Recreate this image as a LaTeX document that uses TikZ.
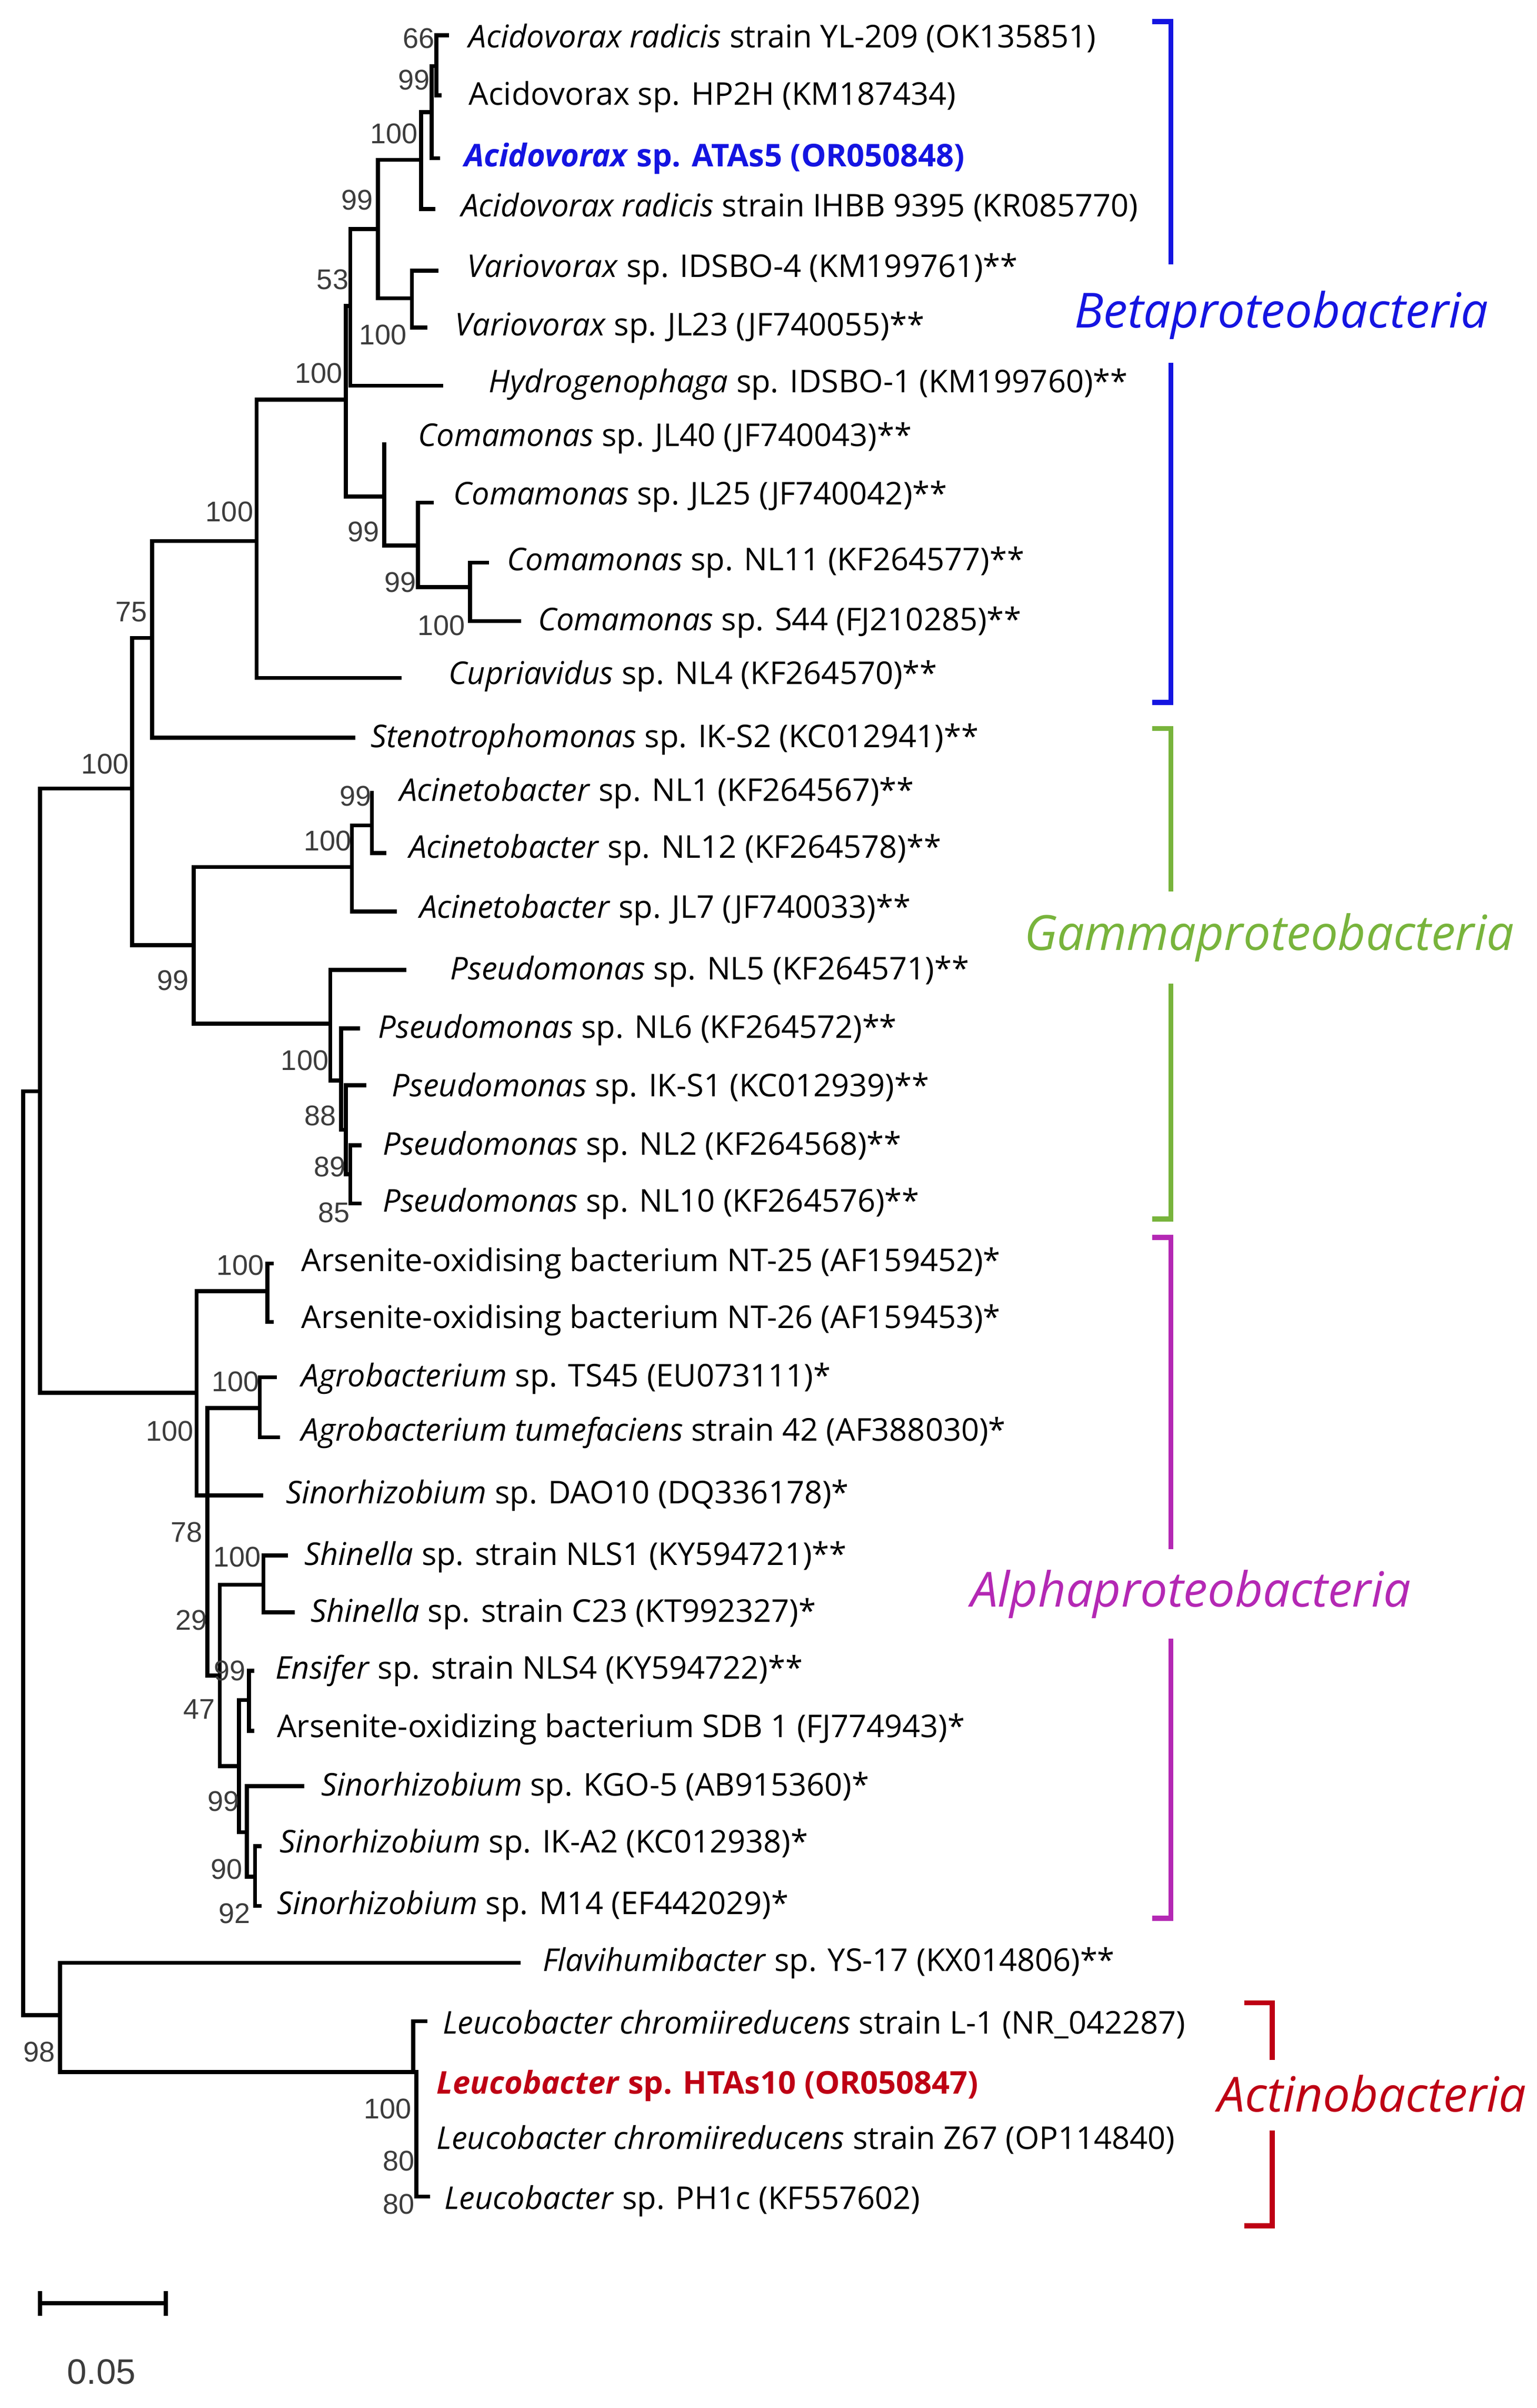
\documentclass[tikz,border=0pt]{standalone}
\usepackage{fontspec}
\setmainfont{Open Sans}
\newfontfamily\bsfont{Liberation Sans}
\definecolor{bsgray}{RGB}{60,60,60}
\definecolor{cblue}{RGB}{20,20,225}
\definecolor{cgreen}{RGB}{120,180,60}
\definecolor{cmag}{RGB}{180,40,180}
\definecolor{cred}{RGB}{190,0,20}
\newcommand\leafnode[4]{\node[leaf] (#1) at (#2,#3) {#4};}
\newcommand\bsnode[4]{\node[bs] (#1) at (#2,#3) {#4};}
\begin{document}
\begin{tikzpicture}[x=1pt,y=-1pt,
  br/.style={line width=2.6pt,line cap=rect},
  leaf/.style={anchor=west,inner sep=0pt,font=\fontsize{20.4}{22}\selectfont},
  bs/.style={anchor=east,inner sep=0pt,font=\bsfont\fontsize{18.5}{19}\selectfont,text=bsgray},
  clade/.style={inner sep=0pt,font=\itshape\fontsize{31.5}{34}\selectfont},
  brk/.style={line width=3.2pt}]
\useasboundingbox (0,0) rectangle (1000,1566.6);
% ---- Beta
\draw[br] (284,23)--(291,23) (284,23)--(284,62)--(286,62);
\draw[br] (281,43)--(284,43) (281,43)--(281,103)--(285,103);
\draw[br] (274,73)--(281,73) (274,73)--(274,136)--(282,136);
\draw[br] (246,104)--(274,104) (246,104)--(246,194)--(268,194);
\draw[br] (268,176)--(284,176) (268,176)--(268,213)--(277,213);
\draw[br] (228,149)--(246,149) (228,149)--(228,251)--(287,251);
\draw[br] (225,199)--(228,199) (225,199)--(225,323)--(250,323);
\draw[br] (250,289)--(250,355)--(272,355);
\draw[br] (272,327)--(281,327) (272,327)--(272,382)--(306,382);
\draw[br] (306,366)--(317,366) (306,366)--(306,404)--(338,404);
\draw[br] (167,260)--(225,260) (167,260)--(167,441)--(260,441);
\draw[br] (99,352)--(167,352) (99,352)--(99,480)--(230,480);
\draw[br] (86,415)--(99,415) (86,415)--(86,615)--(126,615);
% ---- Gamma
\draw[br] (126,564)--(229,564) (126,564)--(126,666)--(215,666);
\draw[br] (229,537)--(242,537) (229,537)--(229,593)--(257,593);
\draw[br] (242,516)--(242,555)--(250,555);
\draw[br] (215,631)--(263,631) (215,631)--(215,703)--(222,703);
\draw[br] (222,669)--(233,669) (222,669)--(222,735)--(225,735);
\draw[br] (225,706)--(237,706) (225,706)--(225,764)--(228,764);
\draw[br] (228,745)--(234,745) (228,745)--(228,783)--(234,783);
% ---- Alpha
\draw[br] (26,906)--(128,906) (128,840)--(128,973)--(170,973);
\draw[br] (128,840)--(174,840) (174,822)--(177,822) (174,822)--(174,860)--(177,860);
\draw[br] (128,973)--(135,973) (135,916)--(135,1090)--(143,1090);
\draw[br] (135,916)--(169,916) (169,896)--(179,896) (169,896)--(169,935)--(181,935);
\draw[br] (143,1031)--(171.5,1031) (143,1031)--(143,1149)--(155.6,1149);
\draw[br] (171.5,1012)--(186,1012) (171.5,1012)--(171.5,1049)--(190.5,1049);
\draw[br] (155.6,1106)--(162,1106) (155.6,1106)--(155.6,1192)--(160.6,1192);
\draw[br] (162,1087)--(164,1087) (162,1087)--(162,1126)--(164,1126);
\draw[br] (160.6,1162)--(196.7,1162) (160.6,1162)--(160.6,1221)--(166,1221);
\draw[br] (166,1201)--(169,1201) (166,1201)--(166,1240)--(169,1240);
% ---- Root & Actino
\draw[br] (26,513)--(86,513) (26,513)--(26,906);
\draw[br] (15,710)--(26,710) (15,710)--(15,1311)--(39,1311);
\draw[br] (39,1277)--(337.6,1277) (39,1277)--(39,1348)--(269,1348);
\draw[br] (269,1315)--(277,1315) (269,1315)--(269,1348);
\draw[br] (271,1348)--(271,1429)--(278.6,1429);
% ---- leaves
\leafnode{l1}{305}{25}{\textit{Acidovorax radicis} strain YL-209 (OK135851)}
\leafnode{l2}{305}{63}{Acidovorax sp. HP2H (KM187434)}
\leafnode{l3}{302}{103}{\bfseries\color{cblue}\textit{Acidovorax} sp. ATAs5 (OR050848)}
\leafnode{l4}{300}{135}{\textit{Acidovorax radicis} strain IHBB 9395 (KR085770)}
\leafnode{l5}{304}{175}{\textit{Variovorax} sp. IDSBO-4 (KM199761)**}
\leafnode{l6}{296}{213}{\textit{Variovorax} sp. JL23 (JF740055)**}
\leafnode{l7}{318}{250}{\textit{Hydrogenophaga} sp. IDSBO-1 (KM199760)**}
\leafnode{l8}{272}{285}{\textit{Comamonas} sp. JL40 (JF740043)**}
\leafnode{l9}{295}{323}{\textit{Comamonas} sp. JL25 (JF740042)**}
\leafnode{l10}{330}{366}{\textit{Comamonas} sp. NL11 (KF264577)**}
\leafnode{l11}{350}{405}{\textit{Comamonas} sp. S44 (FJ210285)**}
\leafnode{l12}{292}{440}{\textit{Cupriavidus} sp. NL4 (KF264570)**}
\leafnode{l13}{241}{481}{\textit{Stenotrophomonas} sp. IK-S2 (KC012941)**}
\leafnode{l14}{260}{516}{\textit{Acinetobacter} sp. NL1 (KF264567)**}
\leafnode{l15}{266}{553}{\textit{Acinetobacter} sp. NL12 (KF264578)**}
\leafnode{l16}{273}{592}{\textit{Acinetobacter} sp. JL7 (JF740033)**}
\leafnode{l17}{293}{632}{\textit{Pseudomonas} sp. NL5 (KF264571)**}
\leafnode{l18}{246}{670}{\textit{Pseudomonas} sp. NL6 (KF264572)**}
\leafnode{l19}{255}{708}{\textit{Pseudomonas} sp. IK-S1 (KC012939)**}
\leafnode{l20}{249}{746}{\textit{Pseudomonas} sp. NL2 (KF264568)**}
\leafnode{l21}{249}{783}{\textit{Pseudomonas} sp. NL10 (KF264576)**}
\leafnode{l22}{196}{822}{Arsenite-oxidising bacterium NT-25 (AF159452)*}
\leafnode{l23}{196}{859}{Arsenite-oxidising bacterium NT-26 (AF159453)*}
\leafnode{l24}{196}{897}{\textit{Agrobacterium} sp. TS45 (EU073111)*}
\leafnode{l25}{196}{932}{\textit{Agrobacterium tumefaciens} strain 42 (AF388030)*}
\leafnode{l26}{186}{973}{\textit{Sinorhizobium} sp. DAO10 (DQ336178)*}
\leafnode{l27}{198}{1013}{\textit{Shinella} sp. strain NLS1 (KY594721)**}
\leafnode{l28}{202}{1050}{\textit{Shinella} sp. strain C23 (KT992327)*}
\leafnode{l29}{179}{1087}{\textit{Ensifer} sp. strain NLS4 (KY594722)**}
\leafnode{l30}{180}{1125}{Arsenite-oxidizing bacterium SDB 1 (FJ774943)*}
\leafnode{l31}{209}{1163}{\textit{Sinorhizobium} sp. KGO-5 (AB915360)*}
\leafnode{l32}{182}{1200}{\textit{Sinorhizobium} sp. IK-A2 (KC012938)*}
\leafnode{l33}{180}{1240}{\textit{Sinorhizobium} sp. M14 (EF442029)*}
\leafnode{l34}{353}{1277}{\textit{Flavihumibacter} sp. YS-17 (KX014806)**}
\leafnode{l35}{288}{1317}{\textit{Leucobacter chromiireducens} strain L-1 (NR\_042287)}
\leafnode{l36}{284}{1357}{\bfseries\color{cred}\textit{Leucobacter} sp. HTAs10 (OR050847)}
\leafnode{l37}{284}{1392}{\textit{Leucobacter chromiireducens} strain Z67 (OP114840)}
\leafnode{l38}{289}{1432}{\textit{Leucobacter} sp. PH1c (KF557602)}
% ---- bootstrap
\bsnode{b1}{283}{25}{66}
\bsnode{b2}{280}{52}{99}
\bsnode{b3}{272}{87}{100}
\bsnode{b4}{243}{130}{99}
\bsnode{b5}{227}{182}{53}
\bsnode{b6}{265}{218}{100}
\bsnode{b7}{223}{243}{100}
\bsnode{b8}{165}{333}{100}
\bsnode{b9}{247}{346}{99}
\bsnode{b10}{271}{379}{99}
\bsnode{b11}{303}{407}{100}
\bsnode{b12}{96}{398}{75}
\bsnode{b13}{84}{497}{100}
\bsnode{b14}{242}{518}{99}
\bsnode{b15}{229}{547}{100}
\bsnode{b16}{123}{638}{99}
\bsnode{b17}{214}{690}{100}
\bsnode{b18}{219}{726}{88}
\bsnode{b19}{225}{759}{89}
\bsnode{b20}{228}{789}{85}
\bsnode{b21}{172}{823}{100}
\bsnode{b22}{169}{899}{100}
\bsnode{b23}{126}{931}{100}
\bsnode{b24}{132}{997}{78}
\bsnode{b25}{170}{1013}{100}
\bsnode{b26}{135}{1054}{29}
\bsnode{b27}{160}{1087}{99}
\bsnode{b28}{140}{1112}{47}
\bsnode{b29}{156}{1172}{99}
\bsnode{b30}{158}{1216}{90}
\bsnode{b31}{163}{1245}{92}
\bsnode{b32}{36}{1335}{98}
\bsnode{b33}{268}{1372}{100}
\bsnode{b34}{270}{1406}{80}
\bsnode{b35}{270}{1434}{80}
% ---- scale bar
\coordinate (sa) at (26,1498.5);
\coordinate (sb) at (108,1498.5);
\draw[br,line cap=butt] (sa)--(sb) ([yshift=-8pt]sa)--([yshift=8pt]sa) ([yshift=-8pt]sb)--([yshift=8pt]sb);
\node[inner sep=0pt,font=\bsfont\fontsize{23}{24}\selectfont,text=bsgray] (scl) at (66,1543) {0.05};
% ---- clades
\node[clade,text=cblue] (cb) at (834,205) {Betaproteobacteria};
\draw[brk,cblue] (750,14)--(762,14)--(762,172) (762,236)--(762,457)--(750,457);
\node[clade,text=cgreen] (cg) at (826,610) {Gammaproteobacteria};
\draw[brk,cgreen] (750,474)--(762,474)--(762,580) (762,640)--(762,793)--(750,793);
\node[clade,text=cmag] (cm) at (775,1037) {Alphaproteobacteria};
\draw[brk,cmag] (750,805)--(762,805)--(762,1008) (762,1066)--(762,1248)--(750,1248);
\node[clade,text=cred] (ca) at (893,1362) {Actinobacteria};
\draw[brk,cred] (810,1303)--(828,1303)--(828,1340) (828,1386)--(828,1448)--(810,1448);
\end{tikzpicture}
\end{document}
